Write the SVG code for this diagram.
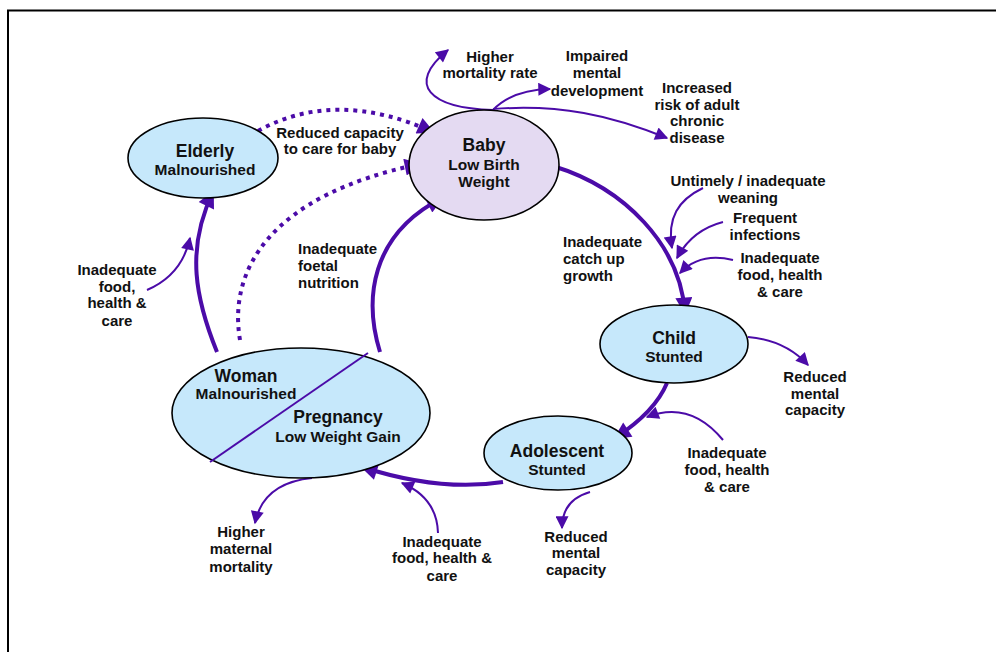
<svg xmlns="http://www.w3.org/2000/svg" width="996" height="652" viewBox="0 0 996 652">
<defs>
<style>
.t{font-family:"Liberation Sans",Arial,sans-serif;font-weight:bold;fill:#111;text-anchor:middle}
.ti{font-size:17.5px}
.su{font-size:15.5px}
.lb{font-family:"Liberation Sans",Arial,sans-serif;font-weight:bold;fill:#111;font-size:15px;text-anchor:middle}
.st{text-anchor:start}
.nd{stroke:#000;stroke-width:1.6}
.thick{fill:none;stroke:#4B0BA8;stroke-width:4;marker-end:url(#ahk)}
.thin{fill:none;stroke:#4B0BA8;stroke-width:2;marker-end:url(#ahn)}
.dot{fill:none;stroke:#4B0BA8;stroke-width:4;stroke-dasharray:4 5;marker-end:url(#ahk)}
</style>
<marker id="ahk" viewBox="0 0 10 10" refX="9" refY="5" markerWidth="24" markerHeight="17" markerUnits="userSpaceOnUse" orient="auto"><path d="M0,0 L10,5 L0,10 z" fill="#4B0BA8"/></marker>
<marker id="ahn" viewBox="0 0 10 10" refX="9" refY="5" markerWidth="18" markerHeight="13" markerUnits="userSpaceOnUse" orient="auto"><path d="M0,0 L10,5 L0,10 z" fill="#4B0BA8"/></marker>
</defs>
<rect width="996" height="652" fill="#fff"/>
<path d="M8,660 L8,10.5 L1000,10.5" fill="none" stroke="#000" stroke-width="2"/>

<g id="connectors">
<path class="thick" d="M217,352 C196,300 185,250 213,192"/>
<path class="thick" d="M380,352 C364,300 370,235 442,198"/>
<path class="dot" d="M240,340 C228,270 270,195 420,164"/>
<path class="dot" d="M258,131 Q335,88 433,132"/>
<path class="thick" d="M553,166 C625,188 680,245 685,313"/>
<path class="thick" d="M667,383 Q655,412 615,438"/>
<path class="thick" d="M503,482 Q440,492 362,467"/>
<path class="thin" d="M493,110 C430,108 405,85 448,50"/>
<path class="thin" d="M493,110 Q512,90 550,89"/>
<path class="thin" d="M493,109 C560,104 610,115 667,138"/>
<path class="thin" d="M703,188 C678,200 667,218 672,248"/>
<path class="thin" d="M723,222 Q692,230 677,258"/>
<path class="thin" d="M733,260 Q700,252 680,273"/>
<path class="thin" d="M748,337 Q785,340 808,365"/>
<path class="thin" d="M723,440 Q690,400 647,417"/>
<path class="thin" d="M590,492 Q562,500 562,528"/>
<path class="thin" d="M438,533 Q437,498 402,483"/>
<path class="thin" d="M312,478 Q263,483 255,523"/>
<path class="thin" d="M147,290 Q182,275 190,238"/>
</g>

<g id="elderly">
<ellipse class="nd" cx="203" cy="158" rx="75" ry="40" fill="#C6E8FB"/>
<text class="t ti" x="205" y="157">Elderly</text>
<text class="t su" x="205" y="175">Malnourished</text>
</g>
<g id="baby">
<ellipse class="nd" cx="484" cy="165" rx="75" ry="55" fill="#E4DAF2"/>
<text class="t ti" x="484" y="151">Baby</text>
<text class="t su" x="484" y="170">Low Birth</text>
<text class="t su" x="484" y="187">Weight</text>
</g>
<g id="child">
<ellipse class="nd" cx="674" cy="344" rx="74" ry="39" fill="#C6E8FB"/>
<text class="t ti" x="674" y="344">Child</text>
<text class="t su" x="674" y="362">Stunted</text>
</g>
<g id="adolescent">
<ellipse class="nd" cx="558" cy="453" rx="74" ry="37" fill="#C6E8FB"/>
<text class="t ti" x="557" y="457">Adolescent</text>
<text class="t su" x="557" y="475">Stunted</text>
</g>
<g id="woman">
<ellipse class="nd" cx="301" cy="413" rx="129" ry="65" fill="#C6E8FB"/>
<line x1="368" y1="353" x2="210" y2="462" stroke="#4B0BA8" stroke-width="2"/>
<text class="t ti" x="246" y="382">Woman</text>
<text class="t su" x="246" y="399">Malnourished</text>
<text class="t ti" x="338" y="423">Pregnancy</text>
<text class="t su" x="338" y="442">Low Weight Gain</text>
</g>

<g id="labels">
<text class="lb" x="340" y="138">Reduced capacity</text>
<text class="lb" x="340" y="154">to care for baby</text>
<text class="lb" x="490" y="62">Higher</text>
<text class="lb" x="490" y="78">mortality rate</text>
<text class="lb" x="597" y="61">Impaired</text>
<text class="lb" x="597" y="78">mental</text>
<text class="lb" x="597" y="96">development</text>
<text class="lb" x="697" y="93">Increased</text>
<text class="lb" x="697" y="110">risk of adult</text>
<text class="lb" x="697" y="126">chronic</text>
<text class="lb" x="697" y="143">disease</text>
<text class="lb" x="748" y="186">Untimely / inadequate</text>
<text class="lb" x="748" y="203">weaning</text>
<text class="lb" x="765" y="223">Frequent</text>
<text class="lb" x="765" y="240">infections</text>
<text class="lb" x="780" y="263">Inadequate</text>
<text class="lb" x="780" y="280">food, health</text>
<text class="lb" x="780" y="297">&amp; care</text>
<text class="lb st" x="563" y="247">Inadequate</text>
<text class="lb st" x="563" y="264">catch up</text>
<text class="lb st" x="563" y="281">growth</text>
<text class="lb" x="815" y="382">Reduced</text>
<text class="lb" x="815" y="399">mental</text>
<text class="lb" x="815" y="415">capacity</text>
<text class="lb" x="727" y="458">Inadequate</text>
<text class="lb" x="727" y="475">food, health</text>
<text class="lb" x="727" y="492">&amp; care</text>
<text class="lb" x="576" y="542">Reduced</text>
<text class="lb" x="576" y="558">mental</text>
<text class="lb" x="576" y="575">capacity</text>
<text class="lb" x="442" y="547">Inadequate</text>
<text class="lb" x="442" y="563">food, health &amp;</text>
<text class="lb" x="442" y="581">care</text>
<text class="lb" x="241" y="537">Higher</text>
<text class="lb" x="241" y="554">maternal</text>
<text class="lb" x="241" y="572">mortality</text>
<text class="lb" x="117" y="275">Inadequate</text>
<text class="lb" x="117" y="292">food,</text>
<text class="lb" x="117" y="308">health &amp;</text>
<text class="lb" x="117" y="326">care</text>
<text class="lb st" x="298" y="254">Inadequate</text>
<text class="lb st" x="298" y="271">foetal</text>
<text class="lb st" x="298" y="288">nutrition</text>
</g>
</svg>
